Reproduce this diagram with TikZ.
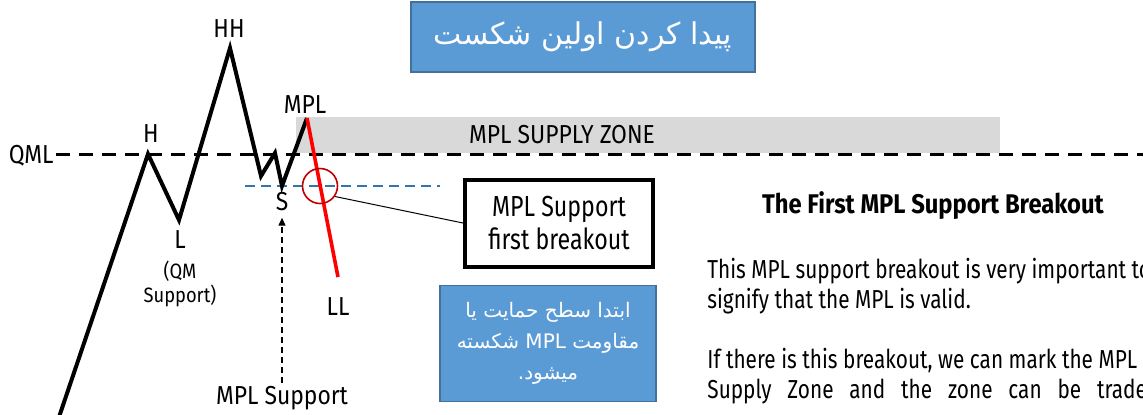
\documentclass[tikz,border=0pt]{standalone}
\usepackage{fontspec}
\setmainfont{Fira Sans}[FakeStretch=0.88]
\newfontfamily\narrowfont{Fira Sans}[FakeStretch=0.8]
\newfontfamily\fafont[Script=Arabic]{DejaVu Sans}
\TeXXeTstate=1
\usetikzlibrary{positioning,arrows.meta}
\definecolor{zonegray}{HTML}{D9D9D9}
\definecolor{boxblue}{HTML}{5B9BD5}
\definecolor{boxedge}{HTML}{41719C}
\definecolor{supblue}{HTML}{2E75B6}
\definecolor{ringred}{HTML}{C00000}
\definecolor{brkred}{HTML}{FF0000}

\begin{document}
\begin{tikzpicture}[x=0.5pt, y=-0.5pt,
    lbl/.style={font=\fontsize{13}{15}\selectfont, inner sep=1pt, anchor=base},
    bluebox/.style={draw=boxedge, line width=0.8pt, fill=boxblue, text=white, inner sep=0pt},
    txt/.style={font=\narrowfont\fontsize{13}{15}\selectfont, inner sep=0pt, anchor=base west}]
    \useasboundingbox (0,0) rectangle (1143,414);
    % swing points of the price path
    \coordinate (start) at (58,420);
    \coordinate (H) at (148,154);
    \coordinate (L) at (179,220);
    \coordinate (HH) at (230,48);
    \coordinate (w1) at (261,176);
    \coordinate (w2) at (275,153);
    \coordinate (S) at (282,186);
    \coordinate (MPL) at (307,118);
    \coordinate (LL) at (338,277);
    % supply zone
    \fill[zonegray] (296,117) rectangle (1000,153);
    \node[font=\fontsize{13}{15}\selectfont, inner sep=0pt] (zone) at (562,135) {MPL SUPPLY ZONE};
    % QML line
    \node[lbl, anchor=base east] (qml) at (56,163) {QML};
    \coordinate (qmlend) at (1143,154);
    \draw[line width=1.5pt, dash pattern=on 7pt off 4.5pt] (qml.east |- qmlend) -- (qmlend);
    % support line of S
    \coordinate (supL) at (245,186);
    \coordinate (supR) at (440,186);
    \draw[supblue, line width=1pt, dash pattern=on 5pt off 3pt] (supL) -- (supR);
    % price path
    \draw[line width=2pt, line join=miter] (start) -- (H) -- (L) -- (HH) -- (w1) -- (w2) -- (S) -- (MPL);
    \draw[brkred, line width=1.8pt] (MPL) -- (LL);
    % labels
    \node[lbl] (hhlbl) at (229,37) {HH};
    \node[lbl] (hlbl) at (151,142) {H};
    \node[lbl] (llbl) at (180,248) {L};
    \node[lbl, font=\fontsize{10.4}{12}\selectfont, align=center] (qmsup) at (180,302) {(QM\\Support)};
    \node[lbl] (mpllbl) at (305,113) {MPL};
    \node[lbl] (slbl) at (282,210) {S};
    \node[lbl] (lllbl) at (338,315) {LL};
    \node[lbl] (mplsup) at (282,404) {MPL Support};
    \draw[line width=0.6pt, dash pattern=on 3pt off 2pt, -{Triangle[length=4pt,width=3.5pt]}, shorten >=2.5pt] (mplsup.north) -- (slbl.south);
    % breakout mark and callout
    \node[circle, draw=ringred, line width=0.8pt, minimum size=17.5pt, inner sep=0pt] (brk) at (320,186) {};
    \node[draw, line width=2pt, minimum width=94pt, minimum height=43.5pt, align=center,
          font=\narrowfont\fontsize{14.5}{16.5}\selectfont] (brkbox) at (559,223) {MPL Support\\first breakout};
    \draw[line width=0.5pt] (brk.-35) -- (brkbox.west);
    % persian notes
    \node[bluebox, minimum width=172pt, minimum height=35pt, font=\fafont\fontsize{15}{18}\selectfont] (title) at (583,37)
        {\beginR پیدا کردن اولین شکست\endR};
    \node[bluebox, minimum width=108pt, minimum height=58pt, align=center, font=\fafont\fontsize{10}{15.5}\selectfont] (note) at (548,343.5)
        {\beginR ابتدا سطح حمایت یا\endR\\\beginR مقاومت MPL شکسته\endR\\\beginR میشود.\endR};
    % explanation text
    \node[font=\bfseries\fontsize{13.5}{16}\selectfont, inner sep=0pt, anchor=base] (head) at (933,213) {The First MPL Support Breakout};
    \begin{scope}
        \clip (700,230) rectangle (1143,414);
        \node[txt] (p1) at (707,278) {This MPL support breakout is very important to};
        \node[txt] (p2) at (707,308) {signify that the MPL is valid.};
        \node[txt] (p3) at (707,368) {If there is this breakout, we can mark the MPL};
        \node[txt] (p4) at (707,398) {\makebox[226pt][s]{Supply Zone and the zone can be traded}};
    \end{scope}
\end{tikzpicture}
\end{document}
